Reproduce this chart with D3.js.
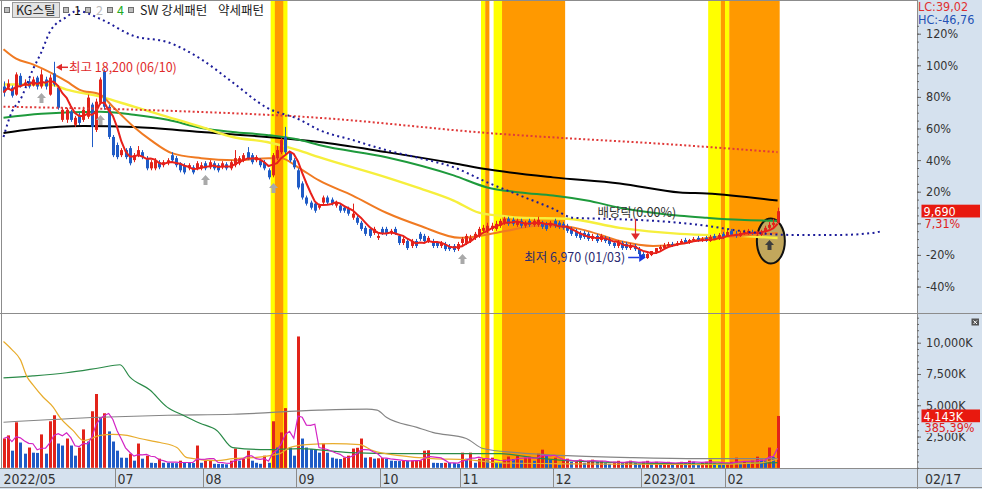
<!DOCTYPE html>
<html><head><meta charset="utf-8">
<script src="https://cdn.jsdelivr.net/npm/d3@7"></script>
<style>
html,body{margin:0;padding:0;background:#fff;}
svg{display:block;}
text{font-family:"Liberation Sans Narrow","DejaVu Sans Condensed","Liberation Sans",sans-serif;}
.kr{font-family:"Noto Sans CJK KR","Noto Sans",sans-serif;}
</style></head><body>
<svg id="c" width="982" height="489"></svg>
<script>
// ---------------- DATA ----------------
// daily candles [open, high, low, close], 2022-05-23 .. 2023-02-17
const ohlc = [
[16790,17080,16220,16450],[16730,17200,16620,16960],[16730,16850,16160,16270],[16330,17600,16270,17480],[17400,17550,16730,16850],
[16850,17200,16730,17020],[17080,17250,16680,16790],[16850,17350,16790,17190],[17300,17400,16620,16790],[16790,17770,16680,17480],
[17190,17350,16620,16790],[16330,17480,16270,17300],[17540,18200,16790,16910],[16730,16850,15470,15580],[14890,15600,14780,15470],
[14900,15580,14720,15470],[15350,15470,14780,14890],[14610,15120,14490,15010],[15180,15300,14600,14720],[14890,15640,14780,15470],
[15070,16330,14950,16160],[15760,15870,13340,14490],[14320,16100,14200,15930],[15870,17310,15760,17190],[17650,17770,15470,15640],
[15640,15760,13800,13920],[13920,14030,12770,12880],[13460,13600,12650,12770],[12880,13280,12770,13170],[13170,13280,12650,12770],
[13280,13400,12300,12420],[12600,13000,12480,12880],[12880,13400,12770,13170],[13050,13170,12650,12770],[12710,12830,12020,12130],
[12130,12600,12020,12480],[12130,12710,12020,12590],[12480,12600,12080,12190],[12310,12600,12190,12480],[12420,12710,12310,12590],
[12880,13050,12480,12590],[12710,12830,12190,12310],[12420,12480,11900,12020],[12310,12420,11790,11900],[12130,12420,12020,12310],
[12190,12310,11790,11900],[12130,12540,12020,12420],[12130,12480,12020,12310],[12420,12540,12020,12130],[12190,12600,12080,12480],
[12420,12540,12020,12130],[12310,12420,11900,12020],[12190,12540,12080,12420],[12360,12480,12020,12130],[12130,12600,12020,12480],
[12310,13170,12190,12710],[12420,12830,12310,12710],[12590,13000,12480,12880],[13050,13340,12600,12710],[12880,13000,12360,12480],
[12590,12880,12480,12770],[12590,12710,12190,12310],[12480,12600,12020,12130],[12020,12130,11500,11620],[11730,13000,11620,12880],
[12710,13400,12600,13170],[13050,13860,12940,13740],[13920,14490,12940,13050],[13000,13110,12480,12590],[12590,12710,12080,12190],
[12020,12130,10930,11040],[11270,11390,10350,10470],[10470,10580,10010,10120],[10180,10290,9780,9890],[10120,10240,9600,9720],
[9890,10120,9780,10010],[10180,10580,10060,10470],[10470,10580,10060,10180],[10350,10470,10010,10120],[10010,10290,9890,10180],
[10010,10120,9600,9720],[9890,10010,9600,9720],[9830,9950,9430,9550],[9320,10120,9200,9550],[9320,9430,8910,9030],
[9030,9140,8570,8680],[8740,8850,8280,8400],[8680,8800,8170,8280],[8450,8800,8340,8680],[8170,8400,8050,8280],
[8680,8800,8340,8450],[8680,8800,8280,8400],[8450,8680,8340,8570],[8680,8800,8340,8450],[8280,8400,7760,7880],
[7880,8220,7760,8110],[7990,8110,7480,7590],[7710,8110,7590,7990],[7990,8110,7590,7710],[8400,8510,8000,8110],
[8280,8400,7880,7990],[7990,8280,7880,8170],[7990,8110,7590,7710],[7880,7990,7590,7710],[7710,7990,7590,7880],
[7820,7940,7420,7530],[7710,7820,7420,7530],[7710,7820,7360,7480],[7530,7940,7420,7820],[7880,8220,7760,8110],
[7880,8400,7760,8280],[7990,8340,7880,8170],[8170,8510,8050,8400],[8280,8800,8170,8680],[8570,8910,8450,8740],
[8570,9030,8450,8860],[8680,9030,8570,8860],[8680,9140,8570,8970],[8860,9260,8740,9140],[9030,9370,8910,9260],
[9260,9370,8860,8970],[9200,9320,8860,8970],[8910,9260,8800,9140],[9140,9260,8740,8860],[8860,9140,8740,9030],
[9140,9260,8800,8910],[8910,9260,8800,9140],[8910,9370,8800,9200],[9030,9140,8680,8800],[8970,9080,8570,8680],
[8860,9140,8740,9030],[9140,9260,8740,8860],[9030,9140,8680,8800],[8970,9080,8630,8740],[8860,8970,8450,8570],
[8680,8800,8280,8400],[8570,8680,8170,8280],[8450,8570,8050,8170],[8450,8570,8110,8220],[8400,8510,7990,8110],
[8110,8400,7990,8280],[8280,8400,7880,7990],[8050,8400,7940,8280],[8170,8280,7880,7990],[8110,8220,7710,7820],
[7880,7990,7590,7710],[7710,8050,7590,7940],[7880,7990,7480,7590],[7820,7940,7480,7590],[7590,7880,7480,7760],
[7710,7820,7420,7530],[7530,7650,7130,7250],[7250,7360,6990,7020],[7020,7300,6970,7250],[7190,7420,7130,7420],
[7360,7590,7250,7590],[7530,7760,7420,7650],[7590,7880,7530,7760],[7710,7940,7650,7820],[7820,7940,7650,7760],
[7760,7990,7710,7880],[7880,8110,7820,7990],[8050,8170,7820,7880],[7880,8110,7820,8050],[8050,8220,7990,8110],
[8170,8280,7940,7990],[7990,8220,7940,8110],[8170,8280,7940,7990],[7990,8340,7940,8220],[8280,8400,8050,8110],
[8110,8450,8050,8340],[8400,8510,8110,8220],[8280,8630,8220,8510],[8570,8680,8280,8340],[8400,8570,8170,8280],
[8280,8570,8220,8450],[8450,8630,8340,8510],[8450,8680,8340,8570],[8510,8630,8340,8400],[8400,8570,8280,8450],
[8340,8630,8280,8510],[8510,8860,8450,8740],[8740,9080,8680,8910],[8910,9260,8800,9030],[9030,9890,8970,9690]
];
// daily volume, thousands of shares
const volumes = [
2340,2590,1370,3640,2020,1130,1620,1210,1190,2670,
1130,3720,4200,1940,1780,2340,1780,970,1620,3070,
2100,4520,5900,4040,4360,2910,2100,1370,810,800,
1130,570,1940,730,970,400,380,730,400,390,
380,370,570,400,390,380,1780,400,550,600,
320,310,300,280,570,1540,570,730,1370,570,
400,320,970,400,3720,1620,2830,4770,1620,970,
10500,2340,1620,1500,1450,1210,1940,1210,810,730,
700,810,970,1540,1600,2340,810,850,730,760,
780,730,570,550,540,570,560,580,590,600,
1370,1400,400,390,380,400,390,380,320,1210,
730,1210,400,730,750,570,810,400,390,650,
900,700,970,600,810,890,560,1130,1450,970,
650,810,240,700,730,480,560,650,400,570,
650,480,560,400,320,480,560,400,480,570,
400,320,480,560,400,480,320,400,480,320,
400,480,400,570,480,320,400,480,650,400,
320,240,400,480,810,400,480,400,570,890,
650,570,1620,853,4143
];
// month boundaries (first trading-day index) and labels
const monthTicks = [
{i:0,label:"2022/05"},{i:27,label:"07"},{i:48,label:"08"},{i:70,label:"09"},{i:90,label:"10"},
{i:109,label:"11"},{i:131,label:"12"},{i:152,label:"2023/01"},{i:172,label:"02"}
];
// moving-average lines: [day index, price]
const maOrange = [[0,18920],[3,18380],[7,18050],[12,17480],[15,17080],[18,16620],[23,16330],[26,15640],[31,14490],[35,13740],[40,13000],[47,12710],[55,12590],[63,12710],[66,12710],[70,12190],[75,11440],[83,10580],[91,9600],[99,8860],[108.5,8170],[113,8280],[119.7,8570],[126.8,8860],[134,8800],[138.7,8570],[146.5,7990],[154.4,7710],[160.8,7820],[167.2,8170],[175,8280],[184,8450]];
const maYellow = [[0,16906],[11,16906],[15,16619],[23,16216],[31,15641],[39,15066],[47,14491],[54.5,13916],[62.6,13629],[70,13169],[75,12766],[91,11616],[99,10984],[107,10294],[113,9604],[118,9431],[122.8,9316],[134,9259],[146.5,8741],[160.8,8396],[175,8281],[184,8166]];
const maGreen = [[0,15009],[9,15239],[23,15354],[31,15181],[39,14894],[47,14434],[54.5,14204],[62.6,14031],[70.5,13744],[75,13456],[91,12766],[107,11731],[115,11041],[122.8,10754],[130.6,10581],[138.7,10294],[146.5,9891],[154.4,9604],[160.8,9431],[167.2,9316],[175,9201],[184,9144]];
const maBlack = [[0,14146],[7,14376],[19,14549],[31,14491],[47,14204],[62.6,13916],[75,13629],[91,13054],[107,12421],[115,12076],[130.6,11616],[146.5,11271],[160.8,10754],[167.2,10696],[184,10294]];
const redDotted = [[0,15641],[39,15411],[75,15009],[115,14146],[161,13456],[184,13054]];
const blueDotted = [[0,13916],[2,15354],[4,16044],[7,17769],[9,18746],[11,19896],[15,20759],[17.5,21104],[23,20644],[31,19666],[39,19321],[47,18344],[54.5,17021],[62.6,15584],[70.5,14894],[75,14319],[83,13744],[91,13169],[99,12709],[107,12191],[115,11329],[122.8,10581],[130.6,9834],[135.4,9316],[142.5,9259],[154.4,9144],[167.2,8856],[175,8569],[187,8339],[198.8,8339],[206.7,8454],[209,8569]];
// volume averages: [day index, thousands]
const volGold = [[0,10100],[2,9450],[4,8650],[5.6,7270],[7,6630],[9.4,5660],[11.8,4850],[13.4,4040],[16.5,2990],[19,2180],[23,2590],[26,2670],[29.4,2590],[32.4,2340],[37.2,2020],[41.2,1620],[43.6,810],[50.7,570],[54.5,730],[59.3,810],[65.7,1130],[68,1620],[72,1860],[78.3,1940],[84.7,1860],[87.8,1370],[94.2,970],[102,730],[110,650],[118,400],[134,320],[165.5,260],[180,400],[184,700]];
const volGreen = [[0,7190],[7,7350],[15,7600],[23,8000],[27.7,8240],[30,7270],[34.8,6220],[38.9,4850],[42.7,4200],[46.7,3560],[50.7,2990],[54.5,1620],[62.6,1450],[70.5,1540],[82.4,1210],[94.2,1130],[118,1130],[125.9,810],[134,570],[149.6,400],[165.5,320],[184,420]];
const volGray = [[0,3640],[23,4040],[39,4200],[54.5,4280],[75,4610],[86.4,4690],[88.8,4610],[91,4040],[98.3,3230],[102,2830],[110,2340],[114,1540],[122,1210],[134,970],[149.6,810],[165.5,730],[184,730]];
// pattern highlight bands [from, to, type]
const bands = [
[63.5,67.5,"y"],[64.5,66.5,"o"],
[113.5,114.5,"y"],[114.5,115.5,"o"],[116.5,118.5,"y"],[118.5,133.5,"o"],
[167.5,170.5,"y"],[170.5,171.5,"o"],[171.5,172.5,"y"],[172.5,184.5,"o"]
];
// pattern arrows [day index, price]
const grayArrows = [[9,16137],[23,14884],[48,11466],[64,11011],[109,6966]];
const circleMark = {i:182.4, price:7990, arrowPrice:7764};
const highNote = {i:12, price:18200, text:"최고 18,200 (06/10)"};
const lowNote = {i:153, price:6970, text:"최저 6,970 (01/03)"};
const divNote = {i:150, price:8050, text:"배당락(0.00%)"};
const basePrice = 9000;
const lastPrice = 9690, lastChange = "7,31%";
const lastVolume = 4143, lastVolChange = "385,39%";
const pctTicks = [-40,-20,0,20,40,60,80,100,120];
const volTicks = [2500,5000,7500,10000];

// ---------------- CHART ----------------
(function(){
const svg = d3.select("#c");
const PL = 2, PR = 917, TOP_B = 312.5, DIV = 313.5, BOT_B = 468;
const x = d3.scaleLinear().domain([0,217]).range([3.5, 3.5 + 217*4.207]);
const yP = d3.scaleLinear().domain([5400,19800]).range([286.5,33.7]);
const yPct = d3.scaleLinear().domain([-40,120]).range([286.5,33.7]);
const yV = d3.scaleLinear().domain([0,12000]).range([467.8,317.7]);
const red = "#e2231a", blue = "#1f5bc6";

svg.append("rect").attr("width",982).attr("height",489).attr("fill","#fff");
const defs = svg.append("defs");
defs.append("clipPath").attr("id","cpAll").append("rect").attr("x",PL).attr("y",0).attr("width",PR-PL).attr("height",BOT_B);
defs.append("clipPath").attr("id","cpTop").append("rect").attr("x",PL).attr("y",0).attr("width",PR-PL).attr("height",TOP_B);
defs.append("clipPath").attr("id","cpBot").append("rect").attr("x",PL).attr("y",DIV).attr("width",PR-PL).attr("height",BOT_B-DIV);

// bands
svg.append("g").attr("clip-path","url(#cpAll)").selectAll("rect").data(bands).join("rect")
  .attr("x",d=>x(d[0])).attr("width",d=>x(d[1])-x(d[0]))
  .attr("y",0).attr("height",BOT_B)
  .attr("fill",d=>d[2]==="y"?"#ffff00":"#ff9900");

const tg = svg.append("g").attr("clip-path","url(#cpTop)");
const lineP = d3.line().x(d=>x(d[0])).y(d=>yP(d[1])).curve(d3.curveMonotoneX);

// circle mark (ellipse)
tg.append("ellipse").attr("cx",x(circleMark.i)).attr("cy",yP(circleMark.price))
  .attr("rx",14).attr("ry",22.5).attr("fill","#c2a75c").attr("stroke","#111").attr("stroke-width",2);

// long MAs
[[maBlack,"#000",2],[maGreen,"#1e9a3c",2],[maYellow,"#f6ef3c",2.4],[maOrange,"#f07a22",2]].forEach(([d,c,w])=>{
  tg.append("path").datum(d).attr("d",lineP).attr("fill","none").attr("stroke",c).attr("stroke-width",w);
});

// candles
const idx = d3.range(ohlc.length);
const cg = tg.append("g");
cg.selectAll("line").data(idx).join("line")
  .attr("x1",i=>Math.round(x(i))+0.5).attr("x2",i=>Math.round(x(i))+0.5)
  .attr("y1",i=>yP(ohlc[i][1])).attr("y2",i=>yP(ohlc[i][2]))
  .attr("stroke",i=>ohlc[i][3]>=ohlc[i][0]?red:blue).attr("stroke-width",1);
cg.selectAll("rect").data(idx).join("rect")
  .attr("x",i=>Math.round(x(i))-1).attr("width",3)
  .attr("y",i=>yP(Math.max(ohlc[i][0],ohlc[i][3])))
  .attr("height",i=>Math.max(1,Math.abs(yP(ohlc[i][0])-yP(ohlc[i][3]))))
  .attr("fill",i=>ohlc[i][3]>=ohlc[i][0]?red:blue);

// 5-day MA of closes
const closes = ohlc.map(d=>d[3]);
const ma5 = idx.map(i=>[i, d3.mean(closes.slice(Math.max(0,i-4), i+1))]);
tg.append("path").datum(ma5).attr("d",d3.line().x(d=>x(d[0])).y(d=>yP(d[1])))
  .attr("fill","none").attr("stroke","#e8201a").attr("stroke-width",2);

// dotted lines
tg.append("path").datum(redDotted).attr("d",lineP).attr("fill","none")
  .attr("stroke","#e03a3a").attr("stroke-width",2).attr("stroke-dasharray","2,2.4");
tg.append("path").datum(blueDotted).attr("d",lineP).attr("fill","none")
  .attr("stroke","#1c1c9a").attr("stroke-width",2).attr("stroke-dasharray","2,3.4");

// arrows
function upArrow(g, cx, cy, fill){
  g.append("path").attr("d",`M${cx},${cy-5}L${cx+4.5},${cy}L${cx+2},${cy}L${cx+2},${cy+5}L${cx-2},${cy+5}L${cx-2},${cy}L${cx-4.5},${cy}Z`).attr("fill",fill);
}
grayArrows.forEach(a=>upArrow(tg, Math.round(x(a[0]))+0.5, yP(a[1]), "#a9a9a9"));
upArrow(tg, Math.round(x(182))+0.5, yP(circleMark.arrowPrice), "#3d3d3d");

// annotations
{
  const hx = x(highNote.i), hy = yP(highNote.price)+5.5;
  tg.append("path").attr("d",`M${hx+2},${hy}L${hx+8},${hy-3.5}L${hx+8},${hy+3.5}Z`).attr("fill","#e02a2a");
  tg.append("line").attr("x1",hx+8).attr("x2",hx+14).attr("y1",hy).attr("y2",hy).attr("stroke","#e02a2a").attr("stroke-width",1.5);
  tg.append("text").attr("class","kr").attr("x",hx+15).attr("y",hy+4.5).attr("font-size",12.5).attr("fill","#e02a2a").text(highNote.text);

  const lx = x(lowNote.i), ly = yP(lowNote.price)-1.5;
  tg.append("text").attr("class","kr").attr("x",lx-22).attr("y",ly+4.5).attr("text-anchor","end").attr("font-size",12.5).attr("fill","#2a2a70").text(lowNote.text);
  tg.append("line").attr("x1",lx-19).attr("x2",lx-8).attr("y1",ly).attr("y2",ly).attr("stroke","#1a3ae0").attr("stroke-width",1.5);
  tg.append("path").attr("d",`M${lx-1.5},${ly}L${lx-8},${ly-4.5}L${lx-8},${ly+4.5}Z`).attr("fill","#1a3ae0");

  const dx = Math.round(x(divNote.i))+0.5, dy = yP(divNote.price);
  tg.append("text").attr("class","kr").attr("x",dx-38).attr("y",dy-23).attr("font-size",12.5).attr("fill","#333").text(divNote.text);
  tg.append("line").attr("x1",dx).attr("x2",dx).attr("y1",dy-21).attr("y2",dy-6).attr("stroke","#e02a2a").attr("stroke-width",1.2);
  tg.append("path").attr("d",`M${dx},${dy}L${dx-4.5},${dy-6.5}L${dx+4.5},${dy-6.5}Z`).attr("fill","#e02a2a");
}

// volume panel
const bg = svg.append("g").attr("clip-path","url(#cpBot)");
bg.selectAll("rect").data(idx).join("rect")
  .attr("x",i=>Math.round(x(i))-1).attr("width",3)
  .attr("y",i=>yV(volumes[i])).attr("height",i=>yV(0)-yV(volumes[i]))
  .attr("fill",i=>(i===0||volumes[i]>volumes[i-1])?red:blue);
const lineV = d3.line().x(d=>x(d[0])).y(d=>yV(d[1])).curve(d3.curveMonotoneX);
[[volGray,"#858585"],[volGreen,"#2a8a48"],[volGold,"#e8ac2c"]].forEach(([d,c])=>{
  bg.append("path").datum(d).attr("d",lineV).attr("fill","none").attr("stroke",c).attr("stroke-width",1.2);
});
const vma5 = idx.map(i=>[i, d3.mean(volumes.slice(Math.max(0,i-4), i+1))]);
bg.append("path").datum(vma5).attr("d",d3.line().x(d=>x(d[0])).y(d=>yV(d[1])))
  .attr("fill","none").attr("stroke","#d324c4").attr("stroke-width",1.2);

// frames & axis backgrounds
const AX = "#d5e1ee", FR = "#8c8c8c";
svg.append("rect").attr("x",PR).attr("y",0).attr("width",982-PR).attr("height",489).attr("fill",AX);
svg.append("rect").attr("x",0).attr("y",BOT_B).attr("width",PR).attr("height",489-BOT_B).attr("fill",AX);
svg.append("line").attr("x1",PR+0.5).attr("x2",PR+0.5).attr("y1",0).attr("y2",489).attr("stroke",FR);
svg.append("line").attr("x1",1.5).attr("x2",1.5).attr("y1",0).attr("y2",BOT_B).attr("stroke",FR);
svg.append("line").attr("x1",0).attr("x2",PR).attr("y1",0.5).attr("y2",0.5).attr("stroke",FR);
svg.append("line").attr("x1",0).attr("x2",982).attr("y1",DIV).attr("y2",DIV).attr("stroke",FR);
svg.append("line").attr("x1",0).attr("x2",982).attr("y1",BOT_B+0.5).attr("y2",BOT_B+0.5).attr("stroke",FR);
svg.append("line").attr("x1",0).attr("x2",982).attr("y1",487.5).attr("y2",487.5).attr("stroke",FR);

// right axes
function styleAxis(g){
  g.select(".domain").remove();
  g.selectAll("line").attr("stroke","#666");
  g.selectAll("text").attr("font-family",null).attr("font-size",12.5).attr("fill","#333");
}
svg.append("g").attr("transform",`translate(${PR},0)`)
  .call(d3.axisRight(yPct).tickValues(d3.range(-45,126,5)).tickSize(2).tickFormat(""))
  .call(styleAxis);
// the 0% label sits under the current-price tag, so it is left unlabelled as in the source
svg.append("g").attr("transform",`translate(${PR},0)`)
  .call(d3.axisRight(yPct).tickValues(pctTicks).tickSize(4).tickPadding(5).tickFormat(d=>d===0?"":d+"%"))
  .call(styleAxis);
svg.append("g").attr("transform",`translate(${PR},0)`)
  .call(d3.axisRight(yV).tickValues(d3.range(0,12001,500)).tickSize(2).tickFormat(""))
  .call(styleAxis);
svg.append("g").attr("transform",`translate(${PR},0)`)
  .call(d3.axisRight(yV).tickValues(volTicks).tickSize(4).tickPadding(5).tickFormat(d=>d3.format(",")(d)+"K"))
  .call(styleAxis);

// current value labels
function valueLabel(yc, main, sub){
  svg.append("rect").attr("x",921.5).attr("y",yc-6.5).attr("width",58.5).attr("height",13).attr("fill","#e8190f");
  svg.append("text").attr("x",923.5).attr("y",yc+5).attr("font-size",12.5).attr("fill","#fff").text(main);
  svg.append("rect").attr("x",921.5).attr("y",yc+6.5).attr("width",58.5).attr("height",10.5).attr("fill",AX);
  svg.append("text").attr("x",924.5).attr("y",yc+16.5).attr("font-size",12.5).attr("fill","#e02020").text(sub);
}
valueLabel(yP(lastPrice), d3.format(",")(lastPrice), lastChange);
valueLabel(yV(lastVolume), d3.format(",")(lastVolume)+"K", lastVolChange);

svg.append("text").attr("x",918).attr("y",11).attr("font-size",12.5).attr("fill","#e03030").text("LC:39,02");
svg.append("text").attr("x",918).attr("y",24).attr("font-size",12.5).attr("fill","#2552b5").text("HC:-46,76");

// close button of volume pane
svg.append("rect").attr("x",971.5).attr("y",318.5).attr("width",7.5).attr("height",7).attr("fill","#555");
svg.append("path").attr("d","M973.5,320.5L977,324M977,320.5L973.5,324").attr("stroke","#fff").attr("stroke-width",1);

// x axis
const xg = svg.append("g");
monthTicks.forEach(m=>{
  const sx = m.i===0 ? 1.5 : Math.round(x(m.i-0.5))+0.5;
  if(m.i>0) xg.append("line").attr("x1",sx).attr("x2",sx).attr("y1",BOT_B).attr("y2",487).attr("stroke",FR);
  xg.append("text").attr("x",sx+2).attr("y",483.5).attr("font-size",14).attr("fill","#333").text(m.label);
});
svg.append("text").attr("x",925).attr("y",483.5).attr("font-size",14).attr("fill","#333").text("02/17");

// legend
const lg = svg.append("g");
function sq(xx){ lg.append("rect").attr("x",xx+0.5).attr("y",7.5).attr("width",5).attr("height",5).attr("fill","#bdbdbd").attr("stroke","#6f6f6f"); }
sq(4);
lg.append("rect").attr("x",12.5).attr("y",2.5).attr("width",47).attr("height",15).attr("fill","#e3e3e3").attr("stroke","#9a9a9a");
lg.append("text").attr("class","kr").attr("x",16).attr("y",14.5).attr("font-size",12.5).attr("fill","#222").text("KG스틸");
sq(63); lg.append("text").attr("class","kr").attr("x",74).attr("y",14.5).attr("font-size",12.5).attr("fill","#111").text("1");
sq(85); lg.append("text").attr("class","kr").attr("x",96).attr("y",14.5).attr("font-size",12.5).attr("fill","#bbb").text("2");
sq(107); lg.append("text").attr("class","kr").attr("x",117).attr("y",14.5).attr("font-size",12.5).attr("fill","#22aa22").text("4");
sq(128);
lg.append("text").attr("class","kr").attr("x",140).attr("y",14.5).attr("font-size",12.5).attr("fill","#222").text("SW 강세패턴");
lg.append("text").attr("class","kr").attr("x",218).attr("y",14.5).attr("font-size",12.5).attr("fill","#222").text("약세패턴");
})();
</script>
</body></html>
